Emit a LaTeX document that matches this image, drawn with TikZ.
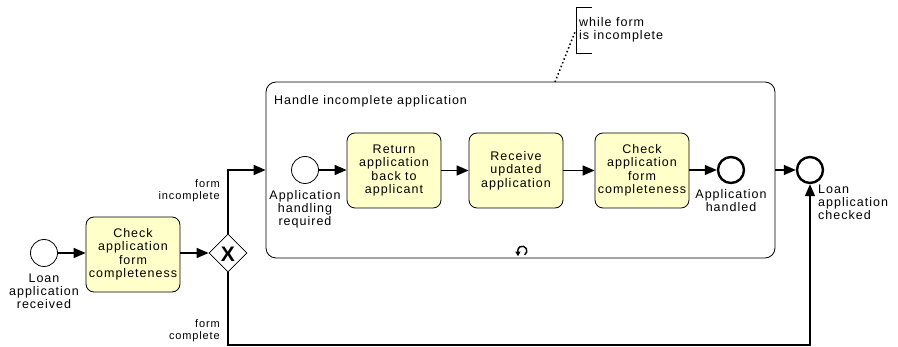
\documentclass[tikz,border=0pt]{standalone}
\usepackage{fontspec}
\setmainfont{Liberation Sans}[LetterSpace=8]
\usetikzlibrary{shapes.geometric,arrows.meta}
\definecolor{taskfill}{HTML}{FFFFCA}
\tikzset{
  task/.style={draw=black, line width=0.8pt, fill=taskfill, rounded corners=8pt,
    minimum width=94pt, minimum height=75pt, align=center, inner sep=1pt,
    font=\fontsize{12.5}{13.5}\selectfont},
  startev/.style={circle, draw=black, line width=0.8pt, fill=white, minimum size=27pt, inner sep=0pt},
  endev/.style={circle, draw=black, line width=2.4pt, fill=white, minimum size=26pt, inner sep=0pt},
  gateway/.style={diamond, draw=black, line width=0.8pt, fill=white, minimum width=38pt, minimum height=38pt, inner sep=0pt, aspect=1},
  flow/.style={draw=black, line width=1.6pt, -{Triangle[length=12pt,width=10pt]}},
  lbl/.style={font=\fontsize{12.5}{13}\selectfont, align=center, inner sep=0pt},
  slbl/.style={font=\fontsize{11}{12}\selectfont, align=right, inner sep=0pt, anchor=north east},
}
\begin{document}
\begin{tikzpicture}[x=1pt,y=-1pt]
\useasboundingbox (0,0) rectangle (898,347);
% subprocess
\node[draw=black, line width=0.8pt, rounded corners=10pt, minimum width=509pt, minimum height=176pt, inner sep=0pt] (sub) at (520.5,170) {};
\node[lbl, anchor=base west] (subl) at (274,105) {Handle incomplete application};
% loop marker
\draw[line width=1.4pt] (524.6,254.8) arc[start angle=-60, end angle=215, radius=4.6pt];
\fill (515.2,251.6) -- (520.6,251.6) -- (518.0,256.2) -- cycle;

% left part
\node[startev] (s1) at (44,253) {};
\node[lbl, anchor=north] (s1l) at (44,274) {Loan\\application\\received};
\node[task] (t1) at (133,254.5) {Check\\application\\form\\completeness};
\node[gateway] (gw) at (228,253) {};
\node[inner sep=0pt, font=\fontsize{21}{21}\bfseries\selectfont] (gwx) at (228,254) {X};

% inner
\node[startev] (s2) at (305,170) {};
\node[lbl, anchor=north] (s2l) at (305,190) {Application\\handling\\required};
\node[task] (t2) at (394,170.5) {Return\\application\\back to\\applicant};
\node[task] (t3) at (516,170.5) {Receive\\updated\\application};
\node[task] (t4) at (642,170.5) {Check\\application\\form\\completeness};
\node[endev] (e1) at (731,170) {};
\node[lbl, anchor=north] (e1l) at (731,189) {Application\\handled};

\node[endev] (e2) at (810,170) {};
\node[lbl, anchor=north west, align=left] (e2l) at (818,185) {Loan\\application\\checked};

% flows
\draw[flow] (s1) -- (s1 -| t1.west);
\draw[flow] (t1.east |- gw) -- (gw.west);
\draw[flow] (gw.north) |- (sub.west);
\coordinate (c1) at (228,345);
\draw[flow] (gw.south) -- (c1) -| (e2.south);
\draw[flow] (s2) -- (s2 -| t2.west);
\draw[flow] (t2) -- (t3);
\draw[flow] (t3) -- (t4);
\draw[flow] (t4.east |- e1) -- (e1);
\draw[flow] (sub.east |- e2) -- (e2);

\node[slbl] (fi) at (220,179.5) {form\\incomplete};
\node[slbl] (fc) at (220,319.5) {form\\complete};

% annotation
\draw[line width=0.8pt] (592,7) -- (576,7) -- (576,53) -- (592,53);
\node[lbl, anchor=north west, align=left] (ann) at (579,17) {while form\\is incomplete};
\coordinate (annpt) at (575,32);
\coordinate (subtop) at (555,82);
\draw[line width=1.5pt, dash pattern=on 1.5pt off 2.5pt] (subtop) -- (annpt);
\end{tikzpicture}
\end{document}
